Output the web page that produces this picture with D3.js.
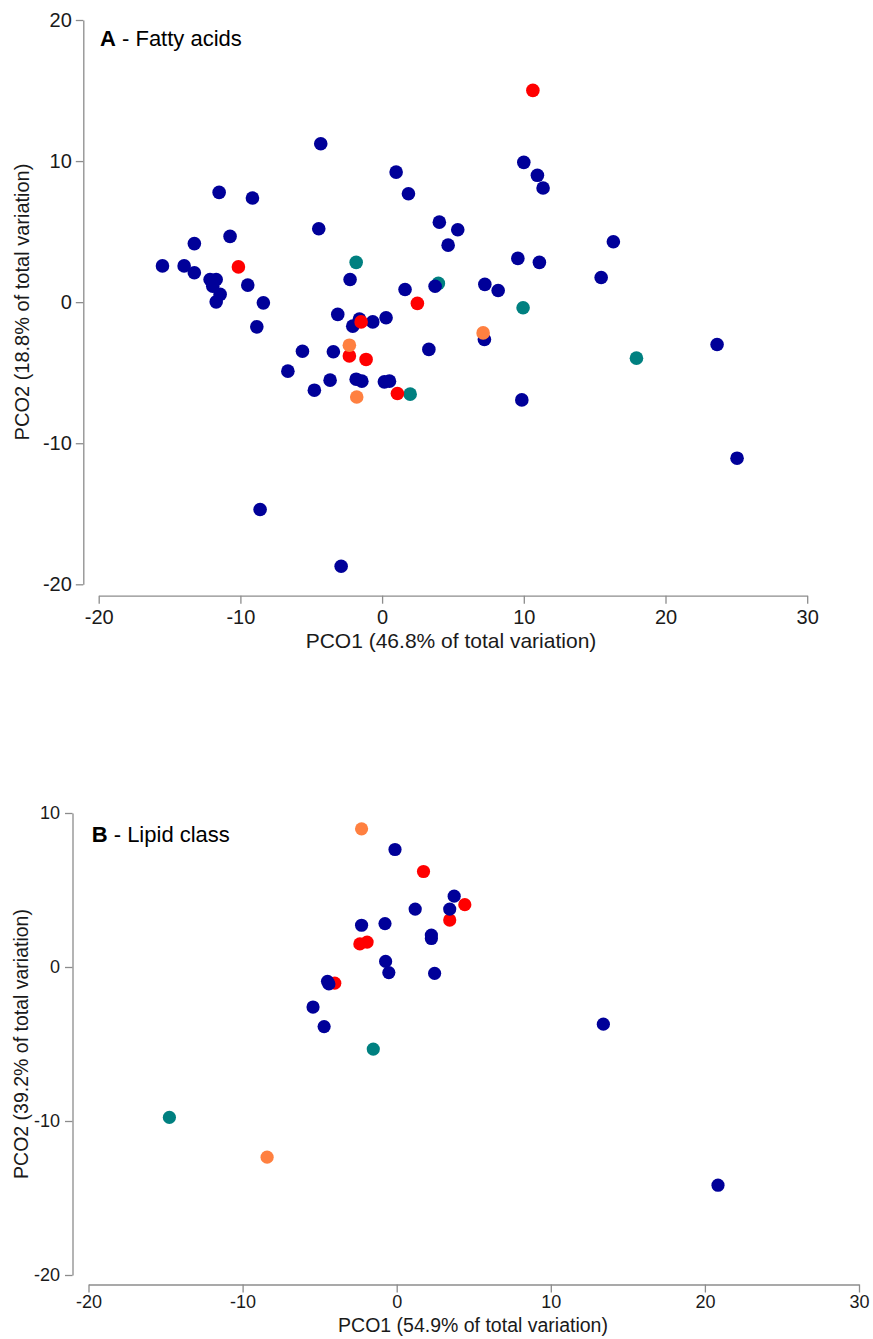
<!DOCTYPE html>
<html>
<head>
<meta charset="utf-8">
<script src="https://cdn.jsdelivr.net/npm/d3@7"></script>
<style>
  body { margin: 0; background: #fff; }
  svg { font-family: "Liberation Sans", Arial, sans-serif; }
</style>
</head>
<body>
<div id="container"></div>
<script>
// DATA  (PCO1, PCO2 scores)

// A - Fatty acids
const faNavy = [
  [-15.5, 2.57], [-13.97, 2.57], [-13.25, 4.15], [-13.25, 2.08], [-12.14, 1.61],
  [-11.71, 1.61], [-11.95, 1.13], [-11.43, 0.55], [-11.71, 0.02], [-11.5, 7.78],
  [-10.73, 4.66], [-9.15, 7.38], [-9.48, 1.21], [-8.38, -0.05], [-8.84, -1.75],
  [-8.61, -14.7], [-6.65, -4.89], [-5.62, -3.48], [-4.78, -6.24], [-3.67, -5.53],
  [-3.44, -3.52], [-4.33, 11.23], [-4.47, 5.2], [-3.13, -0.87], [-2.26, 1.61],
  [-2.07, -1.7], [-1.6, -1.2], [-0.66, -1.4], [0.28, -1.11], [-1.83, -5.46],
  [-1.43, -5.6], [0.16, -5.65], [0.52, -5.6], [0.99, 9.22], [1.86, 7.68],
  [1.62, 0.9], [3.74, 1.13], [4.04, 5.67], [4.66, 4.04], [5.34, 5.13],
  [3.3, -3.35], [7.25, 1.26], [7.22, -2.65], [8.19, 0.83], [9.58, 3.1],
  [10.0, 9.91], [10.96, 8.99], [11.36, 8.09], [11.1, 2.82], [9.86, -6.93],
  [15.46, 1.75], [16.32, 4.28], [23.64, -3.0], [25.05, -11.06], [-2.89, -18.72]
]
const faRed = [
  [-10.14, 2.5], [10.64, 15.01], [2.49, -0.09], [-1.48, -1.4],
  [-2.31, -3.81], [-1.13, -4.06], [1.08, -6.48]
]
const faOrange = [[-2.31, -3.05], [-1.79, -6.72], [7.13, -2.18]]
const faTeal = [[-1.83, 2.82], [3.97, 1.33], [1.98, -6.52], [9.95, -0.4], [17.95, -3.97]]

// B - Lipid class
const lcNavy = [
  [-0.11, 7.63], [3.73, 4.6], [1.2, 3.76], [3.44, 3.76], [-2.28, 2.71],
  [-0.76, 2.82], [2.25, 2.07], [2.25, 1.85], [-0.72, 0.36], [-0.51, -0.36],
  [2.46, -0.41], [-4.49, -0.93], [-4.4, -1.1], [-5.43, -2.6], [-4.71, -3.87],
  [13.41, -3.71], [20.85, -14.17]
]
const lcRed = [[1.74, 6.2], [4.42, 4.05], [3.44, 3.05], [-2.39, 1.5], [-1.92, 1.62], [-4.02, -1.05]]
const lcOrange = [[-2.28, 8.97], [-8.41, -12.35]]
const lcTeal = [[-1.52, -5.33], [-14.75, -9.77]]

const xTicks = [-20, -10, 0, 10, 20, 30]
const yTicksA = [-20, -10, 0, 10, 20]
const yTicksB = [-20, -10, 0, 10]

const colors = { navy: "#000099", red: "#ff0000", orange: "#ff8040", teal: "#008080" }

// VARIABLES

const width = 873, height = 1339

const svg = d3.select("#container")
  .append("svg")
  .attr("width", width)
  .attr("height", height)

// plain hyphen for negatives, like the original
const fmt = d => String(d)

function panel(o) {
  const xScale = d3.scaleLinear().domain([-20, 30]).range(o.xRange)
  const yScale = d3.scaleLinear().domain(o.yDomain).range(o.yRange)

  const g = svg.append("g")

  // axes
  const xAxis = d3.axisBottom(xScale).tickValues(xTicks).tickFormat(fmt)
    .tickSize(8).tickSizeOuter(0).tickPadding(o.xPad)
  const yAxis = d3.axisLeft(yScale).tickValues(o.yTicks).tickFormat(fmt)
    .tickSize(7.5).tickSizeOuter(0).tickPadding(o.yPad)

  const gx = g.append("g")
    .attr("transform", `translate(0,${o.xAxisY})`)
    .call(xAxis)
  const gy = g.append("g")
    .attr("transform", `translate(${o.yAxisX},0)`)
    .call(yAxis)

  ;[gx, gy].forEach(a => {
    a.selectAll("path, line").attr("stroke", "#8c8c8c").attr("stroke-width", 1.3)
    a.selectAll("text").attr("fill", "#1a1a1a").style("font-size", o.tickFont + "px")
  })

  // axis titles
  g.append("text")
    .attr("x", o.xTitle[0]).attr("y", o.xTitle[1])
    .attr("text-anchor", "middle")
    .attr("fill", "#1a1a1a")
    .style("font-size", o.xTitleFont + "px")
    .text(o.xLabel)

  g.append("text")
    .attr("transform", `translate(${o.yTitle[0]},${o.yTitle[1]}) rotate(-90)`)
    .attr("text-anchor", "middle")
    .attr("fill", "#1a1a1a")
    .style("font-size", o.yTitleFont + "px")
    .text(o.yLabel)

  // panel label
  const t = g.append("text")
    .attr("x", o.label[0]).attr("y", o.label[1])
    .attr("fill", "#000")
    .style("font-size", "22px")
  t.append("tspan").attr("font-weight", "bold").text(o.letter)
  t.append("tspan").text(" - " + o.title)

  // points
  o.groups.forEach(([pts, col]) => {
    g.append("g").selectAll("circle")
      .data(pts)
      .join("circle")
      .attr("cx", d => xScale(d[0]))
      .attr("cy", d => yScale(d[1]))
      .attr("r", o.radius)
      .attr("fill", colors[col])
  })
}

panel({
  xRange: [98.7, 807.2], yDomain: [-20, 20], yRange: [584.3, 20], yTicks: yTicksA,
  xAxisY: 595.7, yAxisX: 83.3, xPad: 6, yPad: 4, tickFont: 20,
  xLabel: "PCO1 (46.8% of total variation)", xTitle: [451, 648], xTitleFont: 21,
  yLabel: "PCO2 (18.8% of total variation)", yTitle: [29, 302], yTitleFont: 20,
  letter: "A", title: "Fatty acids", label: [100, 46],
  radius: 6.8,
  groups: [[faTeal, "teal"], [faNavy, "navy"], [faRed, "red"], [faOrange, "orange"]]
})

panel({
  xRange: [88.5, 859], yDomain: [-20, 10], yRange: [1275, 813], yTicks: yTicksB,
  xAxisY: 1284.5, yAxisX: 72.5, xPad: 3, yPad: 5, tickFont: 18,
  xLabel: "PCO1 (54.9% of total variation)", xTitle: [473, 1332], xTitleFont: 19.5,
  yLabel: "PCO2 (39.2% of total variation)", yTitle: [28, 1044], yTitleFont: 19.5,
  letter: "B", title: "Lipid class", label: [91.7, 842],
  radius: 6.6,
  groups: [[lcTeal, "teal"], [lcRed, "red"], [lcOrange, "orange"], [lcNavy, "navy"]]
})
</script>
</body>
</html>
